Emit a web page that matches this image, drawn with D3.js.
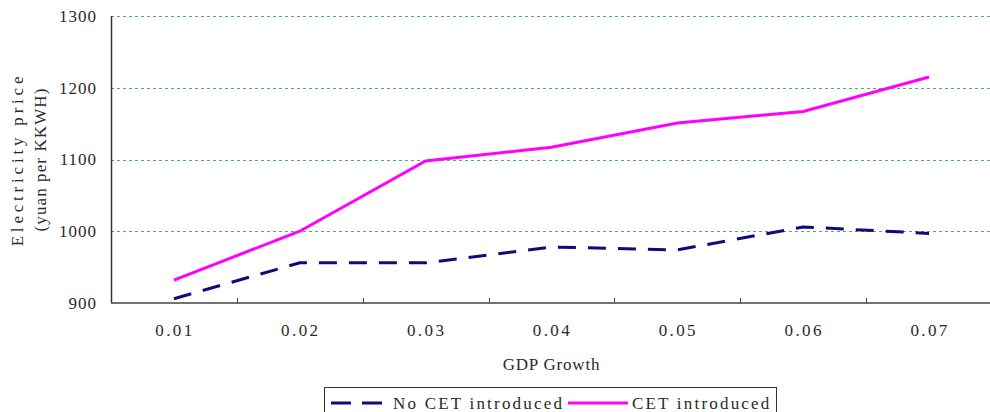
<!DOCTYPE html>
<html>
<head>
<meta charset="utf-8">
<script src="https://cdn.jsdelivr.net/npm/d3@7"></script>
<style>
    body { margin: 0; background: #fff; }
    svg text { font-family: "Liberation Serif", "DejaVu Serif", serif; font-size: 17px; fill: #2a2a2a; }
    .xlabel { letter-spacing: 2.4px; }
    .ylabel { letter-spacing: 1px; }
    .xtitle { letter-spacing: 0.8px; }
    .legendText { letter-spacing: 2.2px; }
</style>
</head>
<body>
<div id="chart"></div>
<script>
var growth = ["0.01", "0.02", "0.03", "0.04", "0.05", "0.06", "0.07"];
var noCet = [906, 956, 956, 978, 974, 1006, 997];
var withCet = [932, 1000, 1098, 1117, 1151, 1167, 1215];
var yTicks = [900, 1000, 1100, 1200, 1300];
var seriesNames = ["No CET introduced", "CET introduced"];

var margin = {
        top: 16,
        right: -2,
        bottom: 109,
        left: 111
    },
    width = 990 - margin.left - margin.right,
    height = 412 - margin.top - margin.bottom;

var svg = d3.select("#chart").append("svg")
    .attr("width", 990)
    .attr("height", 412);

var chart = svg.append("g")
    .attr("transform", "translate(" + margin.left + "," + margin.top + ")");

var x = d3.scaleBand()
    .domain(growth)
    .range([0, width]);
var y = d3.scaleLinear()
    .domain([900, 1300])
    .range([height, 0]);

// gridlines
chart.selectAll(".grid")
    .data(yTicks.slice(1))
    .enter().append("line")
    .attr("class", "grid")
    .attr("x1", 0)
    .attr("x2", 879)
    .attr("y1", function(d) { return Math.round(y(d)) + 0.5; })
    .attr("y2", function(d) { return Math.round(y(d)) + 0.5; })
    .style("stroke", "#4fae62")
    .style("stroke-width", 1)
    .style("stroke-dasharray", "3,3");

// axes
chart.append("line")
    .attr("x1", 0.5).attr("x2", 0.5)
    .attr("y1", 0).attr("y2", height)
    .style("stroke", "#333")
    .style("stroke-width", 1.5);
chart.append("line")
    .attr("x1", 0).attr("x2", 879)
    .attr("y1", height).attr("y2", height)
    .style("stroke", "#444")
    .style("stroke-width", 1.5);

chart.selectAll(".xtick")
    .data(growth.slice(1))
    .enter().append("line")
    .attr("class", "xtick")
    .attr("x1", function(d) { return Math.round(x(d)) + 0.5; })
    .attr("x2", function(d) { return Math.round(x(d)) + 0.5; })
    .attr("y1", height)
    .attr("y2", height - 5)
    .style("stroke", "#444");

chart.selectAll(".xlabel")
    .data(growth)
    .enter().append("text")
    .attr("class", "xlabel")
    .attr("x", function(d) { return x(d) + x.bandwidth() / 2 + 1; })
    .attr("y", height + 33)
    .attr("text-anchor", "middle")
    .text(function(d) { return d; });

chart.selectAll(".ylabel")
    .data(yTicks)
    .enter().append("text")
    .attr("class", "ylabel")
    .attr("x", -14)
    .attr("y", function(d) { return y(d); })
    .attr("dy", "0.35em")
    .attr("text-anchor", "end")
    .text(function(d) { return d; });

chart.append("text")
    .attr("class", "xtitle")
    .attr("x", width / 2)
    .attr("y", height + 67)
    .attr("text-anchor", "middle")
    .text("GDP Growth");

var yTitle = chart.append("text")
    .attr("transform", "translate(-82," + (height / 2) + ") rotate(-90)")
    .attr("text-anchor", "middle");
yTitle.append("tspan")
    .attr("x", 0)
    .attr("y", -6)
    .style("letter-spacing", "3.8px")
    .text("Electricity price");
yTitle.append("tspan")
    .attr("x", 0)
    .attr("y", 17)
    .style("letter-spacing", "1.1px")
    .text("(yuan per KKWH)");

// lines
var line = d3.line()
    .x(function(d, i) { return x(growth[i]) + x.bandwidth() / 2; })
    .y(function(d) { return y(d); });

chart.append("path")
    .datum(withCet)
    .attr("d", line)
    .style("fill", "none")
    .style("stroke", "#ff00ff")
    .style("stroke-width", 3);

chart.append("path")
    .datum(noCet)
    .attr("d", line)
    .style("fill", "none")
    .style("stroke", "#130a7a")
    .style("stroke-width", 3)
    .style("stroke-dasharray", "18,12");

// legend
var legend = svg.append("g")
    .attr("transform", "translate(324,387)");
legend.append("rect")
    .attr("x", 0.5)
    .attr("y", 0.5)
    .attr("width", 452)
    .attr("height", 40)
    .style("fill", "#fff")
    .style("stroke", "#333");
legend.append("line")
    .attr("x1", 7).attr("x2", 58)
    .attr("y1", 16).attr("y2", 16)
    .style("stroke", "#130a7a")
    .style("stroke-width", 3)
    .style("stroke-dasharray", "20,11");
legend.append("text")
    .attr("class", "legendText")
    .attr("x", 69)
    .attr("y", 22)
    .text(seriesNames[0]);
legend.append("line")
    .attr("x1", 244).attr("x2", 304)
    .attr("y1", 16).attr("y2", 16)
    .style("stroke", "#ff00ff")
    .style("stroke-width", 3);
legend.append("text")
    .attr("class", "legendText")
    .attr("x", 308)
    .attr("y", 22)
    .text(seriesNames[1]);
</script>
</body>
</html>
